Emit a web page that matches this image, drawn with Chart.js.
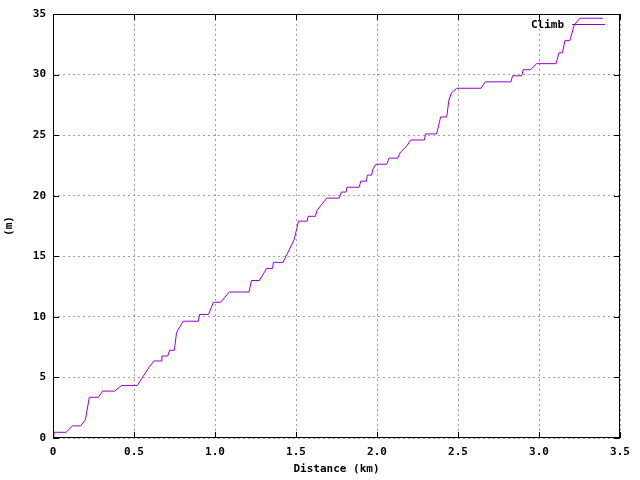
<!DOCTYPE html>
<html>
<head>
<meta charset="utf-8">
<script src="https://cdn.jsdelivr.net/npm/chart.js@4"></script>
<style>
  html, body { margin: 0; padding: 0; background: #fff; }
  #wrap { width: 640px; height: 480px; }
</style>
</head>
<body>
<div id="wrap"><canvas id="climbChart" width="640" height="480"></canvas></div>
<script>
// distance along the route (km) and accumulated climb (m)
const distance = [
  0, 0.006, 0.08, 0.12, 0.17, 0.2, 0.224, 0.28, 0.307, 0.38,
  0.424, 0.52, 0.593, 0.623, 0.667, 0.672, 0.708, 0.72, 0.749, 0.763,
  0.804, 0.897, 0.905, 0.96, 0.99, 1.035, 1.088, 1.21, 1.225, 1.274,
  1.319, 1.356, 1.36, 1.42, 1.488, 1.507, 1.515, 1.569, 1.575, 1.62,
  1.63, 1.69, 1.767, 1.78, 1.809, 1.815, 1.89, 1.9, 1.935, 1.94,
  1.966, 1.975, 1.994, 2.06, 2.075, 2.128, 2.145, 2.184, 2.208, 2.292,
  2.3, 2.368, 2.393, 2.43, 2.444, 2.46, 2.492, 2.642, 2.669, 2.827,
  2.837, 2.893, 2.903, 2.948, 2.985, 3.105, 3.123, 3.145, 3.16, 3.19,
  3.218, 3.253, 3.395
];
const climb = [
  0.1, 0.47, 0.47, 1.0, 1.0, 1.49, 3.36, 3.36, 3.87, 3.87,
  4.34, 4.34, 5.84, 6.36, 6.36, 6.77, 6.77, 7.24, 7.24, 8.73,
  9.64, 9.64, 10.2, 10.2, 11.2, 11.2, 12.05, 12.05, 13.0, 13.0,
  14.0, 14.0, 14.5, 14.5, 16.35, 17.4, 17.9, 17.9, 18.3, 18.3,
  18.8, 19.8, 19.8, 20.3, 20.3, 20.7, 20.7, 21.2, 21.2, 21.7,
  21.7, 22.2, 22.6, 22.6, 23.1, 23.1, 23.6, 24.1, 24.6, 24.6,
  25.1, 25.1, 26.5, 26.5, 27.9, 28.5, 28.87, 28.87, 29.4, 29.4,
  29.9, 29.9, 30.4, 30.4, 30.9, 30.9, 31.8, 31.8, 32.8, 32.8,
  34.1, 34.65, 34.65
];
const seriesName = 'Climb';
const xTitle = 'Distance (km)';
const yTitle = '(m)';

const mono = "'DejaVu Sans Mono', 'Liberation Mono', monospace";
const lineColor = '#9400d3';
const gridColor = '#a0a0a0';

// gnuplot-like frame: black border, inward ticks on all four sides, key at top right
const framePlugin = {
  id: 'frame',
  afterDatasetsDraw(chart) {
    const c = chart.ctx;
    const a = chart.chartArea;
    const xs = chart.scales.x, ys = chart.scales.y;
    c.save();
    c.strokeStyle = '#000';
    c.lineWidth = 1;
    c.setLineDash([]);
    c.strokeRect(Math.round(a.left) + 0.5, Math.round(a.top) + 0.5,
                 Math.round(a.right - a.left) - 1, Math.round(a.bottom - a.top) - 1);
    c.beginPath();
    xs.ticks.forEach(t => {
      const px = Math.round(xs.getPixelForValue(t.value)) + 0.5;
      c.moveTo(px, a.bottom); c.lineTo(px, a.bottom - 6);
      c.moveTo(px, a.top); c.lineTo(px, a.top + 6);
    });
    ys.ticks.forEach(t => {
      const py = Math.round(ys.getPixelForValue(t.value)) + 0.5;
      c.moveTo(a.left, py); c.lineTo(a.left + 6, py);
      c.moveTo(a.right, py); c.lineTo(a.right - 6, py);
    });
    c.stroke();

    // key
    c.font = 'bold 11px ' + mono;
    c.fillStyle = '#000';
    c.textAlign = 'right';
    c.textBaseline = 'middle';
    c.fillText(seriesName, a.right - 56, a.top + 11);
    c.strokeStyle = lineColor;
    c.beginPath();
    c.moveTo(a.right - 48, a.top + 10.5);
    c.lineTo(a.right - 15, a.top + 10.5);
    c.stroke();
    c.restore();
  }
};

const tickFont = { family: mono, size: 11, weight: 'bold' };

new Chart(document.getElementById('climbChart'), {
  type: 'line',
  data: {
    datasets: [{
      label: seriesName,
      data: distance.map((d, i) => ({ x: d, y: climb[i] })),
      borderColor: lineColor,
      borderWidth: 1,
      pointRadius: 0,
      fill: false,
      tension: 0
    }]
  },
  options: {
    responsive: false,
    animation: false,
    layout: { padding: { top: 14, right: 20, left: 3, bottom: 0 } },
    plugins: {
      legend: { display: false },
      tooltip: { enabled: false }
    },
    scales: {
      x: {
        type: 'linear',
        min: 0,
        max: 3.5,
        afterFit(scale) { scale.height = 42; },
        border: { display: false, dash: [2, 3] },
        grid: { color: gridColor, drawTicks: false },
        ticks: {
          stepSize: 0.5,
          padding: 8,
          color: '#000',
          font: tickFont,
          maxRotation: 0
        },
        title: {
          display: true,
          text: xTitle,
          color: '#000',
          font: tickFont,
          padding: { top: 0, bottom: 4 }
        }
      },
      y: {
        min: 0,
        max: 35,
        afterFit(scale) { scale.width = 50; },
        border: { display: false, dash: [2, 3] },
        grid: { color: gridColor, drawTicks: false },
        ticks: {
          stepSize: 5,
          padding: 7,
          color: '#000',
          font: tickFont
        },
        title: {
          display: true,
          text: yTitle,
          color: '#000',
          font: tickFont,
          padding: 0
        }
      }
    }
  },
  plugins: [framePlugin]
});
</script>
</body>
</html>
